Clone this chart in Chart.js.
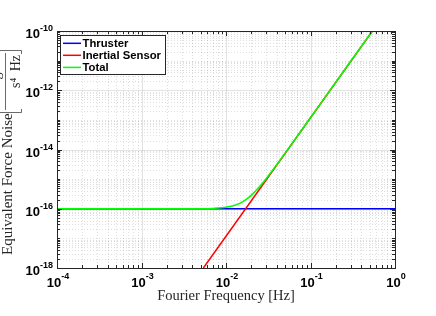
<!DOCTYPE html>
<html>
<head>
<meta charset="utf-8">
<script src="https://cdn.jsdelivr.net/npm/chart.js@4.4.1/dist/chart.umd.min.js"></script>
<style>
  html, body { margin: 0; padding: 0; background: #fff; }
</style>
</head>
<body>
<canvas id="noiseChart" width="436" height="316"></canvas>
<script>
// values: frequency [Hz] vs force noise PSD
const thrusterFreq = [1e-4, 1];
const thrusterNoise = [1e-16, 1e-16];

const inertialFreq = [0.0054, 0.54];
const inertialNoise = [1e-18, 1e-10];

const totalFreq = [1e-4, 0.005, 0.007, 0.01, 0.013, 0.016, 0.02, 0.025, 0.03, 0.04, 0.06, 0.1, 0.2, 0.54];
const totalNoise = [1e-16, 1.007e-16, 1.028e-16, 1.118e-16, 1.337e-16, 1.77e-16, 2.89e-16, 5.61e-16, 1.056e-15, 3.12e-15, 1.54e-14, 1.18e-13, 1.89e-12, 1e-10];

const seriesNames = ['Thruster', 'Inertial Sensor', 'Total'];
const seriesColors = ['#0000ff', '#ff0000', '#00ff00'];

// tick labels are powers of ten, stored as exponents
const xTickExp = [-4, -3, -2, -1, 0];
const yTickExp = [-10, -12, -14, -16, -18];

const AXIS = '#262626';
const SANS = '"Liberation Sans", Arial, sans-serif';
const SERIF = '"Liberation Serif", "Times New Roman", serif';

// grid at 1..9 x 10^n, like matlab's minor grid
const gridX = [];
for (let e = -4; e < 0; e++) for (let k = 1; k < 10; k++) gridX.push(k * Math.pow(10, e));
gridX.push(1);
const gridY = [];
for (let e = -18; e < -10; e++) for (let k = 1; k < 10; k++) gridY.push(k * Math.pow(10, e));
gridY.push(1e-10);

function pairs(xs, ys) { return xs.map((x, i) => ({ x: x, y: ys[i] })); }
function isTick(v, exps) { return exps.some(e => Math.abs(Math.log10(v) - e) < 1e-6); }

function drawPower(ctx, exp, x, yBase, ySup, align) {
    ctx.font = 'bold 13px ' + SANS;
    const wb = ctx.measureText('10').width;
    ctx.font = 'bold 9px ' + SANS;
    const ws = ctx.measureText(String(exp)).width;
    const left = align === 'right' ? x - wb - ws : x - (wb + ws) / 2;
    ctx.textAlign = 'left';
    ctx.textBaseline = 'alphabetic';
    ctx.font = 'bold 13px ' + SANS;
    ctx.fillText('10', left, yBase);
    ctx.font = 'bold 9px ' + SANS;
    ctx.fillText(String(exp), left + wb, ySup);
}

function rotatedText(ctx, text, x, y, font, align) {
    ctx.save();
    ctx.translate(x, y);
    ctx.rotate(-Math.PI / 2);
    ctx.font = font;
    ctx.textAlign = align;
    ctx.textBaseline = 'alphabetic';
    ctx.fillText(text, 0, 0);
    ctx.restore();
}

const framePlugin = {
    id: 'frame',
    beforeDatasetsDraw(chart) {
        const { ctx, chartArea: a, scales: { x, y } } = chart;
        ctx.save();
        ctx.beginPath();
        ctx.rect(a.left, a.top, a.width, a.height);
        ctx.clip();
        ctx.lineWidth = 1;
        gridX.forEach(v => {
            const px = Math.round(x.getPixelForValue(v)) + 0.5;
            const major = isTick(v, xTickExp);
            ctx.strokeStyle = major ? 'rgba(38,38,38,0.13)' : 'rgba(38,38,38,0.15)';
            ctx.setLineDash(major ? [] : [1, 2]);
            ctx.beginPath(); ctx.moveTo(px, a.top); ctx.lineTo(px, a.bottom); ctx.stroke();
        });
        gridY.forEach(v => {
            const py = Math.round(y.getPixelForValue(v)) + 0.5;
            const major = isTick(v, yTickExp);
            ctx.strokeStyle = major ? 'rgba(38,38,38,0.13)' : 'rgba(38,38,38,0.15)';
            ctx.setLineDash(major ? [] : [1, 2]);
            ctx.beginPath(); ctx.moveTo(a.left, py); ctx.lineTo(a.right, py); ctx.stroke();
        });
        ctx.restore();
    },
    afterDatasetsDraw(chart) {
        const { ctx, chartArea: a, scales: { x, y } } = chart;
        ctx.save();
        ctx.strokeStyle = AXIS;
        ctx.fillStyle = AXIS;
        ctx.lineWidth = 1;

        // inward ticks on all four sides
        gridX.forEach(v => {
            const px = Math.round(x.getPixelForValue(v)) + 0.5;
            const len = isTick(v, xTickExp) ? 5 : 3;
            ctx.beginPath();
            ctx.moveTo(px, a.bottom); ctx.lineTo(px, a.bottom - len);
            ctx.moveTo(px, a.top); ctx.lineTo(px, a.top + len);
            ctx.stroke();
        });
        gridY.forEach(v => {
            const py = Math.round(y.getPixelForValue(v)) + 0.5;
            const len = isTick(v, yTickExp) ? 5 : 3;
            ctx.beginPath();
            ctx.moveTo(a.left, py); ctx.lineTo(a.left + len, py);
            ctx.moveTo(a.right, py); ctx.lineTo(a.right - len, py);
            ctx.stroke();
        });
        ctx.strokeRect(Math.round(a.left) + 0.5, Math.round(a.top) + 0.5,
                       Math.round(a.width), Math.round(a.height));

        // tick labels
        ctx.fillStyle = '#000';
        xTickExp.forEach(e => {
            const px = x.getPixelForValue(Math.pow(10, e));
            drawPower(ctx, e, px + 1, a.bottom + 19, a.bottom + 11, 'center');
        });
        yTickExp.forEach(e => {
            const py = y.getPixelForValue(Math.pow(10, e));
            drawPower(ctx, e, a.left - 4, py + 7, py, 'right');
        });

        // x title
        ctx.fillStyle = AXIS;
        ctx.font = '14.5px ' + SERIF;
        ctx.textAlign = 'center';
        ctx.fillText('Fourier Frequency [Hz]', (a.left + a.right) / 2, a.bottom + 32);

        // y title, rotated, with bracketed unit fraction (top half runs off the canvas)
        rotatedText(ctx, 'Equivalent Force Noise', 12, 255, '15px ' + SERIF, 'left');

        ctx.lineWidth = 0.8;
        ctx.strokeStyle = '#444';
        ctx.beginPath();
        ctx.moveTo(-2, 112.5); ctx.lineTo(21.5, 112.5); ctx.lineTo(21.5, 109);
        ctx.moveTo(-2, 50.5); ctx.lineTo(21.5, 50.5); ctx.lineTo(21.5, 54);
        ctx.moveTo(5.5, 53); ctx.lineTo(5.5, 110);
        ctx.stroke();

        rotatedText(ctx, 's\u2074\u2009 Hz', 20, 71.5, '14px ' + SERIF, 'center');
        rotatedText(ctx, 'kg\u00b2 m\u00b2', 0, 68, '14px ' + SERIF, 'center');

        // legend box
        const lx = 60.5, ly = 35.5, lw = 105, lh = 39;
        ctx.fillStyle = '#fff';
        ctx.fillRect(lx, ly, lw, lh);
        ctx.strokeStyle = AXIS;
        ctx.lineWidth = 1;
        ctx.strokeRect(lx, ly, lw, lh);
        const rows = [43.3, 55.3, 67.4];
        seriesNames.forEach((name, i) => {
            ctx.strokeStyle = seriesColors[i];
            ctx.lineWidth = 1.5;
            ctx.beginPath(); ctx.moveTo(63, rows[i]); ctx.lineTo(81, rows[i]); ctx.stroke();
            ctx.fillStyle = '#000';
            ctx.font = 'bold 11.3px ' + SANS;
            ctx.textAlign = 'left';
            ctx.textBaseline = 'middle';
            ctx.fillText(name, 82.5, rows[i] + 0.5);
        });
        ctx.restore();
    }
};

new Chart(document.getElementById('noiseChart').getContext('2d'), {
    type: 'scatter',
    data: {
        datasets: [
            { label: seriesNames[0], data: pairs(thrusterFreq, thrusterNoise), borderColor: seriesColors[0], order: 3 },
            { label: seriesNames[1], data: pairs(inertialFreq, inertialNoise), borderColor: seriesColors[1], order: 2 },
            { label: seriesNames[2], data: pairs(totalFreq, totalNoise), borderColor: seriesColors[2], order: 1,
              cubicInterpolationMode: 'monotone' }
        ]
    },
    options: {
        responsive: false,
        animation: false,
        devicePixelRatio: 1,
        showLine: true,
        elements: { point: { radius: 0 }, line: { borderWidth: 1.5 } },
        layout: { padding: { left: 57, right: 41, top: 31, bottom: 48 } },
        scales: {
            x: { type: 'logarithmic', min: 1e-4, max: 1, display: false },
            y: { type: 'logarithmic', min: 1e-18, max: 1e-10, display: false }
        },
        plugins: { legend: { display: false }, tooltip: { enabled: false } }
    },
    plugins: [framePlugin]
});
</script>
</body>
</html>
